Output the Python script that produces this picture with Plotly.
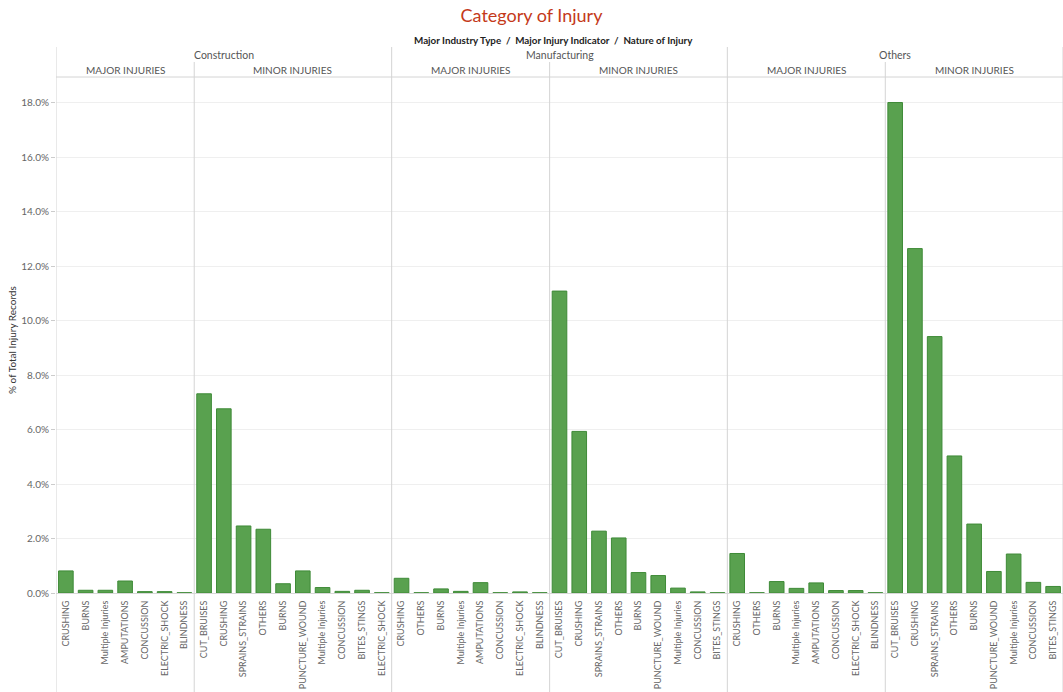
import plotly.graph_objects as go

# ---- data ----
industries = ["Construction", "Manufacturing", "Others"]
indicators = ["MAJOR INJURIES", "MINOR INJURIES"]

constr_major_cats = ["CRUSHING", "BURNS", "Multiple Injuries", "AMPUTATIONS", "CONCUSSION", "ELECTRIC_SHOCK", "BLINDNESS"]
constr_major_vals = [0.81, 0.10, 0.10, 0.44, 0.05, 0.05, 0.01]

constr_minor_cats = ["CUT_BRUISES", "CRUSHING", "SPRAINS_STRAINS", "OTHERS", "BURNS", "PUNCTURE_WOUND",
                     "Multiple Injuries", "CONCUSSION", "BITES_STINGS", "ELECTRIC_SHOCK"]
constr_minor_vals = [7.31, 6.76, 2.46, 2.34, 0.34, 0.81, 0.20, 0.06, 0.10, 0.01]

manuf_major_cats = ["CRUSHING", "OTHERS", "BURNS", "Multiple Injuries", "AMPUTATIONS", "CONCUSSION", "ELECTRIC_SHOCK", "BLINDNESS"]
manuf_major_vals = [0.54, 0.01, 0.15, 0.06, 0.38, 0.01, 0.04, 0.01]

manuf_minor_cats = ["CUT_BRUISES", "CRUSHING", "SPRAINS_STRAINS", "OTHERS", "BURNS", "PUNCTURE_WOUND",
                    "Multiple Injuries", "CONCUSSION", "BITES_STINGS"]
manuf_minor_vals = [11.08, 5.93, 2.27, 2.02, 0.75, 0.64, 0.18, 0.04, 0.01]

others_major_cats = ["CRUSHING", "OTHERS", "BURNS", "Multiple Injuries", "AMPUTATIONS", "CONCUSSION", "ELECTRIC_SHOCK", "BLINDNESS"]
others_major_vals = [1.45, 0.01, 0.42, 0.17, 0.37, 0.09, 0.09, 0.01]

others_minor_cats = ["CUT_BRUISES", "CRUSHING", "SPRAINS_STRAINS", "OTHERS", "BURNS", "PUNCTURE_WOUND",
                     "Multiple Injuries", "CONCUSSION", "BITES_STINGS"]
others_minor_vals = [18.00, 12.64, 9.41, 5.03, 2.53, 0.79, 1.43, 0.39, 0.24]

y_ticks = [0, 2, 4, 6, 8, 10, 12, 14, 16, 18]

panels = [
    (0, 0, constr_major_cats, constr_major_vals),
    (0, 1, constr_minor_cats, constr_minor_vals),
    (1, 0, manuf_major_cats, manuf_major_vals),
    (1, 1, manuf_minor_cats, manuf_minor_vals),
    (2, 0, others_major_cats, others_major_vals),
    (2, 1, others_minor_cats, others_minor_vals),
]

# ---- layout constants ----
W, H = 1063, 692
ML, MR, MT, MB = 56, 0, 78, 99
PH = H - MT - MB  # plot height px
FONT = "Lato"

def py(px):  # pixel y (from top) -> paper y
    return (H - MB - px) / PH

xs, ys, texts = [], [], []
panel_bounds = []
idx = 0
for ind, ii, cats, vals in panels:
    start = idx
    for c, v in zip(cats, vals):
        xs.append(idx)
        ys.append(v)
        texts.append(c)
        idx += 1
    panel_bounds.append((ind, ii, start, idx - 1))
n = idx

fig = go.Figure()
fig.add_trace(go.Bar(
    x=xs, y=ys, width=0.74,
    marker=dict(color="#59a14f", line=dict(color="#3e8a37", width=1)),
    hovertemplate="%{y:.2f}%<extra></extra>",
))

shapes = []
annotations = []
div_color = "#d4d4d4"

# industry-level dividers and labels
for k, ind in enumerate(industries):
    pb = [p for p in panel_bounds if p[0] == k]
    s, e = pb[0][2], pb[-1][3]
    shapes.append(dict(type="line", xref="x", yref="paper", x0=s - 0.5, x1=s - 0.5,
                       y0=py(H), y1=py(47), line=dict(color=div_color, width=1)))
    annotations.append(dict(xref="x", yref="paper", x=(s + e) / 2, y=py(55), text=ind,
                            showarrow=False, yanchor="middle",
                            font=dict(family=FONT, size=10.5, color="#555555")))
    for (_, ii, ps, pe) in pb:
        if ii == 1:
            shapes.append(dict(type="line", xref="x", yref="paper", x0=ps - 0.5, x1=ps - 0.5,
                               y0=py(H), y1=py(62), line=dict(color=div_color, width=1)))
        annotations.append(dict(xref="x", yref="paper", x=(ps + pe) / 2, y=py(70), text=indicators[ii],
                                showarrow=False, yanchor="middle",
                                font=dict(family=FONT, size=10, color="#555555")))
# right edge
shapes.append(dict(type="line", xref="x", yref="paper", x0=n - 0.5, x1=n - 0.5,
                   y0=py(H), y1=py(47), line=dict(color=div_color, width=1)))
# horizontal header line
shapes.append(dict(type="line", xref="paper", yref="paper", x0=0, x1=1,
                   y0=py(77), y1=py(77), line=dict(color=div_color, width=1)))

# header title
annotations.append(dict(xref="paper", yref="paper", x=(553 - ML) / (W - ML - MR), y=py(40),
                        text="<b>Major Industry Type  /  Major Injury Indicator  /  Nature of Injury</b>",
                        showarrow=False, yanchor="middle",
                        font=dict(family=FONT, size=9.8, color="#222222")))
# y title
annotations.append(dict(xref="paper", yref="paper", x=(12 - ML) / (W - ML - MR), y=py(340),
                        text="% of Total Injury Records", textangle=-90, showarrow=False,
                        xanchor="center", yanchor="middle",
                        font=dict(family=FONT, size=10, color="#333333")))

fig.update_layout(
    width=W, height=H,
    margin=dict(l=ML, r=MR, t=MT, b=MB),
    paper_bgcolor="white", plot_bgcolor="white",
    title=dict(text="Category of Injury", x=0.5, xanchor="center", y=1 - 16 / H, yanchor="middle",
               font=dict(family=FONT, size=18, color="#c4391a")),
    showlegend=False,
    bargap=0.26,
    shapes=shapes,
    annotations=annotations,
    xaxis=dict(
        range=[-0.5, n - 0.5],
        tickmode="array", tickvals=xs, ticktext=texts, tickangle=-90,
        tickfont=dict(family=FONT, size=9, color="#666666"),
        showgrid=False, zeroline=False, showline=False,
        ticks="outside", ticklen=3, tickcolor="rgba(0,0,0,0)",
    ),
    yaxis=dict(
        range=[0, 18.9],
        tickmode="array", tickvals=y_ticks,
        ticktext=[f"{v:.1f}%" for v in y_ticks],
        tickfont=dict(family=FONT, size=10, color="#666666"),
        showgrid=True, gridcolor="#efefef", gridwidth=1,
        zeroline=True, zerolinecolor="#d8d8d8", zerolinewidth=1,
        ticks="outside", ticklen=4, tickcolor="#cccccc",
        showline=False,
    ),
)

fig.write_html("out.html")
